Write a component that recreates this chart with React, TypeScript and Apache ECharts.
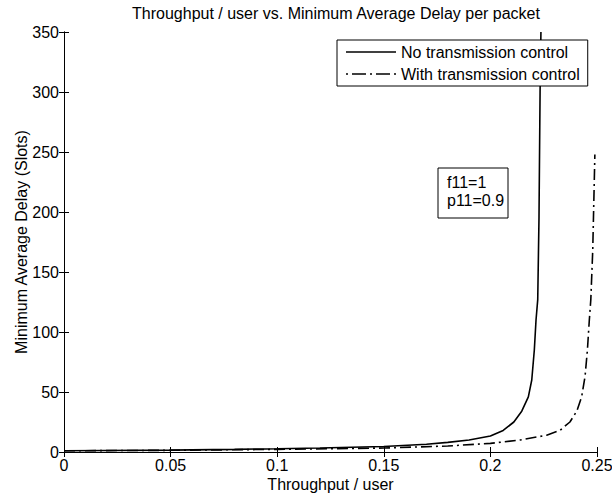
import React, { useEffect, useRef } from "react";
import * as echarts from "echarts";

const titleText = "Throughput / user vs. Minimum Average Delay per packet";
const xAxisTitle = "Throughput / user";
const yAxisTitle = "Minimum Average Delay (Slots)";
const seriesNames = ["No transmission control", "With transmission control"];
const annotationLines = ["f11=1", "p11=0.9"];

const xTicks = [0, 0.05, 0.1, 0.15, 0.2, 0.25];
const xTickLabels = ["0", "0.05", "0.1", "0.15", "0.2", "0.25"];

const xNoControl = [0, 0.02, 0.05, 0.08, 0.1, 0.12, 0.15, 0.17, 0.18, 0.19, 0.2, 0.206, 0.211, 0.2147, 0.2178, 0.2194, 0.2206, 0.2214, 0.2222, 0.2228, 0.2233, 0.2237];
const yNoControl = [1, 1.2, 1.6, 2.2, 2.7, 3.3, 4.6, 6.5, 8, 10, 13.3, 18, 25, 34, 46, 60, 85, 110, 127, 196, 300, 350];

const xWithControl = [0, 0.05, 0.1, 0.15, 0.18, 0.2, 0.214, 0.2264, 0.2326, 0.2373, 0.2405, 0.2428, 0.2444, 0.2455, 0.2464, 0.2471, 0.248, 0.249];
const yWithControl = [1, 1.4, 2.2, 3.3, 5, 7.2, 10, 14, 18, 25, 34, 46, 63, 85, 110, 127, 168, 248];

const FONT = "Liberation Sans";
const FS = 16;

const solidIcon = "path://M0,0h50v1.5h-50z";
const dashDotIcon =
  "path://M0,0h2v1.5h-2z M6,0h14v1.5h-14z M24,0h2v1.5h-2z M30,0h14v1.5h-14z M48,0h2v1.5h-2z";

export default function App() {
  const ref = useRef<HTMLDivElement>(null);
  useEffect(() => {
    if (!ref.current) return;
    const chart = echarts.init(ref.current, undefined, { renderer: "svg" });
    const fmtX = (v: number) => {
      const i = xTicks.findIndex((t) => Math.abs(t - v) < 1e-9);
      return i >= 0 ? xTickLabels[i] : "";
    };
    const axisCommon = {
      axisLine: { show: true, lineStyle: { color: "#000", width: 1 } },
      axisTick: { show: true, inside: true, length: 5, lineStyle: { color: "#000" } },
      splitLine: { show: false },
    };
    chart.setOption({
      animation: false,
      backgroundColor: "#fff",
      textStyle: { fontFamily: FONT },
      title: {
        text: titleText,
        left: 331,
        textAlign: "center",
        top: 0,
        textStyle: { fontFamily: FONT, fontSize: FS, fontWeight: "normal", color: "#000" },
      },
      grid: { left: 64, right: 15, top: 32, bottom: 44, containLabel: false, outerBoundsMode: "none" },
      legend: {
        orient: "vertical",
        left: 337,
        top: 40,
        backgroundColor: "#fff",
        borderColor: "#000",
        borderWidth: 1,
        borderRadius: 0,
        padding: [4, 8, 4, 9],
        itemGap: 6,
        itemWidth: 50,
        itemHeight: 14,
        symbolKeepAspect: true,
        textStyle: { fontFamily: FONT, fontSize: FS, color: "#000" },
        data: [
          { name: seriesNames[0], icon: solidIcon, itemStyle: { color: "#000" } },
          { name: seriesNames[1], icon: dashDotIcon, itemStyle: { color: "#000" } },
        ],
      },
      xAxis: [
        {
          type: "value",
          min: 0,
          max: 0.25,
          interval: 0.05,
          name: xAxisTitle,
          nameLocation: "middle",
          nameGap: 24,
          nameMoveOverlap: false,
          nameTextStyle: { fontFamily: FONT, fontSize: FS, color: "#000" },
          axisLabel: { fontFamily: FONT, fontSize: FS, color: "#000", margin: 5, formatter: fmtX },
          ...axisCommon,
        },
        {
          type: "value",
          position: "top",
          min: 0,
          max: 0.25,
          interval: 0.05,
          axisLabel: { show: false },
          ...axisCommon,
        },
      ],
      yAxis: [
        {
          type: "value",
          min: 0,
          max: 350,
          interval: 50,
          name: yAxisTitle,
          nameLocation: "middle",
          nameGap: 35,
          nameMoveOverlap: false,
          nameTextStyle: { fontFamily: FONT, fontSize: FS, color: "#000" },
          axisLabel: { fontFamily: FONT, fontSize: FS, color: "#000", margin: 5 },
          ...axisCommon,
        },
        {
          type: "value",
          position: "right",
          min: 0,
          max: 350,
          interval: 50,
          axisLabel: { show: false },
          ...axisCommon,
        },
      ],
      series: [
        {
          name: seriesNames[0],
          type: "line",
          xAxisIndex: 0,
          yAxisIndex: 0,
          symbol: "none",
          data: xNoControl.map((x, i) => [x, yNoControl[i]]),
          lineStyle: { color: "#000", width: 1.6, type: "solid" },
          itemStyle: { color: "#000" },
        },
        {
          name: seriesNames[1],
          type: "line",
          xAxisIndex: 0,
          yAxisIndex: 0,
          symbol: "none",
          data: xWithControl.map((x, i) => [x, yWithControl[i]]),
          lineStyle: { color: "#000", width: 1.6, type: [11, 4, 2, 4] },
          itemStyle: { color: "#000" },
        },
      ],
      graphic: [
        {
          type: "rect",
          shape: { x: 438, y: 168, width: 70, height: 50 },
          style: { fill: "#fff", stroke: "#000", lineWidth: 1 },
          z: 10,
        },
        {
          type: "text",
          x: 447,
          y: 173,
          style: {
            text: annotationLines.join("\n"),
            fontFamily: FONT,
            fontSize: FS,
            lineHeight: 18,
            fill: "#000",
          },
          z: 11,
        },
      ],
    });
    return () => chart.dispose();
  }, []);
  return (
    <div
      ref={ref}
      style={{ position: "fixed", left: 0, top: 0, width: 612, height: 496, background: "#fff" }}
    />
  );
}
